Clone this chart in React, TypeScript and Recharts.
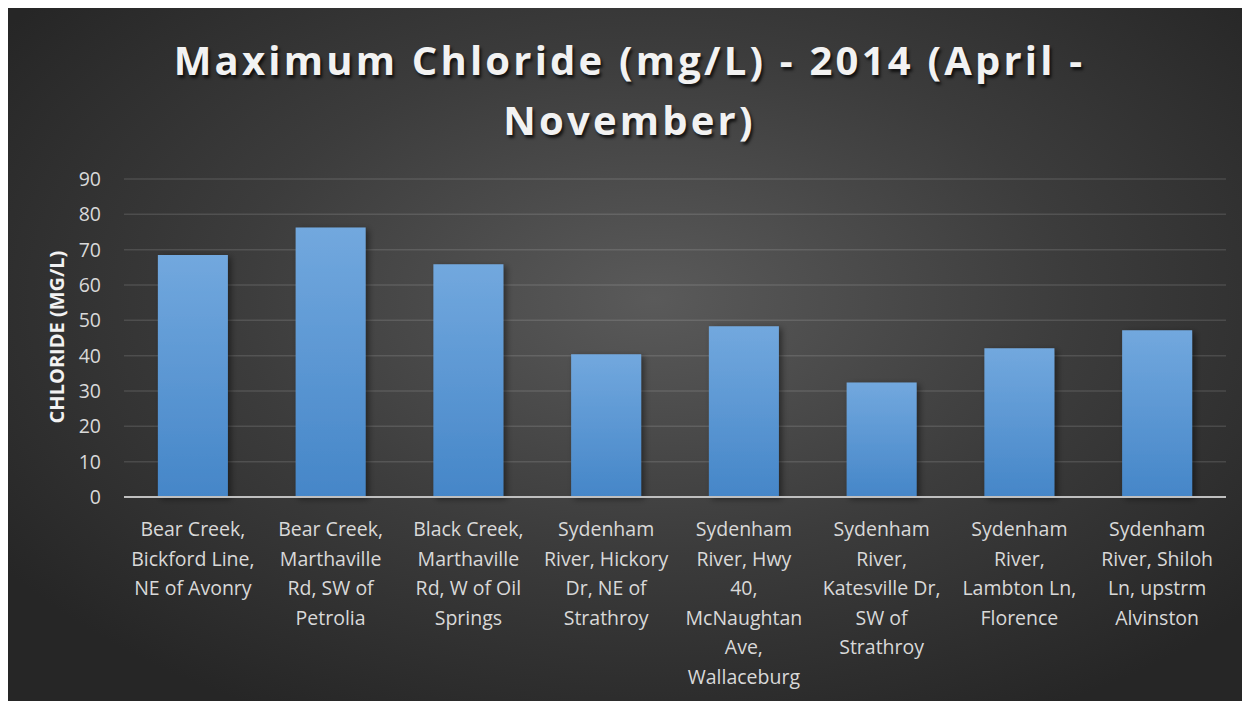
import { BarChart, Bar, XAxis, YAxis, CartesianGrid } from "recharts";

const sites = [
  "Bear Creek,\nBickford Line,\nNE of Avonry",
  "Bear Creek,\nMarthaville\nRd, SW of\nPetrolia",
  "Black Creek,\nMarthaville\nRd, W of Oil\nSprings",
  "Sydenham\nRiver, Hickory\nDr, NE of\nStrathroy",
  "Sydenham\nRiver, Hwy\n40,\nMcNaughtan\nAve,\nWallaceburg",
  "Sydenham\nRiver,\nKatesville Dr,\nSW of\nStrathroy",
  "Sydenham\nRiver,\nLambton Ln,\nFlorence",
  "Sydenham\nRiver, Shiloh\nLn, upstrm\nAlvinston",
];

const maxChloride = [68.5, 76.3, 65.9, 40.4, 48.3, 32.4, 42.1, 47.2];

const yTicks = [0, 10, 20, 30, 40, 50, 60, 70, 80, 90];

const data = sites.map((site, i) => ({ site, value: maxChloride[i] }));

const FONT = "'Open Sans', 'Liberation Sans', sans-serif";

const XTick = (props: any) => {
  const { x, y, payload } = props;
  const lines = String(payload.value).split("\n");
  return (
    <text
      x={x}
      y={y + 31}
      textAnchor="middle"
      fill="#d9d9d9"
      fontSize={19.5}
      fontFamily={FONT}
    >
      {lines.map((line, i) => (
        <tspan key={i} x={x} dy={i === 0 ? 0 : 29.5}>
          {line}
        </tspan>
      ))}
    </text>
  );
};

const YTick = (props: any) => {
  const { x, y, payload } = props;
  return (
    <text
      x={x - 15}
      y={y}
      dy="0.36em"
      textAnchor="end"
      fill="#d9d9d9"
      fontSize={19.5}
      fontFamily={FONT}
    >
      {payload.value}
    </text>
  );
};

export default function App() {
  return (
    <div
      style={{
        position: "relative",
        width: 1243,
        height: 693,
        marginLeft: -1,
        background:
          "radial-gradient(ellipse 75% 80% at 52% 42%, #5a5a5a 0%, #3c3c3c 45%, #262626 85%)",
        fontFamily: FONT,
        overflow: "hidden",
      }}
    >
      <div
        style={{
          position: "absolute",
          top: 22,
          left: 0,
          width: 1245,
          textAlign: "center",
          color: "#f2f2f2",
          fontSize: 40,
          fontWeight: 700,
          letterSpacing: 3.2,
          lineHeight: "60px",
          textShadow: "2px 3px 3px rgba(0,0,0,0.7)",
        }}
      >
        Maximum Chloride (mg/L) - 2014 (April -
        <br />
        November)
      </div>
      <div
        style={{
          position: "absolute",
          left: 49,
          top: 329,
          transform: "translate(-50%, -50%) rotate(-90deg)",
          whiteSpace: "nowrap",
          color: "#f2f2f2",
          fontSize: 20,
          fontWeight: 700,
        }}
      >
        CHLORIDE (MG/L)
      </div>
      <div style={{ position: "absolute", left: 1, top: 0 }}>
        <BarChart
          width={1242}
          height={693}
          data={data}
          margin={{ top: 171, right: 24, left: 0, bottom: 0 }}
          barCategoryGap="24.6%"
        >
          <defs>
            <linearGradient id="barFill" x1="0" y1="0" x2="0" y2="1">
              <stop offset="0%" stopColor="#72a8de" />
              <stop offset="100%" stopColor="#4586c8" />
            </linearGradient>
            <filter id="barShadow" x="-10%" y="-10%" width="130%" height="130%">
              <feDropShadow dx="3" dy="2" stdDeviation="3" floodColor="#000" floodOpacity="0.45" />
            </filter>
          </defs>
          <CartesianGrid
            vertical={false}
            stroke="#ffffff"
            strokeOpacity={0.12}
            strokeWidth={1.5}
          />
          <XAxis
            dataKey="site"
            interval={0}
            height={204}
            tick={<XTick />}
            tickLine={false}
            axisLine={{ stroke: "#bfbfbf", strokeWidth: 2 }}
          />
          <YAxis
            width={116}
            domain={[0, 90]}
            ticks={yTicks}
            tick={<YTick />}
            tickLine={false}
            axisLine={false}
          />
          <Bar
            dataKey="value"
            fill="url(#barFill)"
            filter="url(#barShadow)"
            isAnimationActive={false}
          />
        </BarChart>
      </div>
    </div>
  );
}
